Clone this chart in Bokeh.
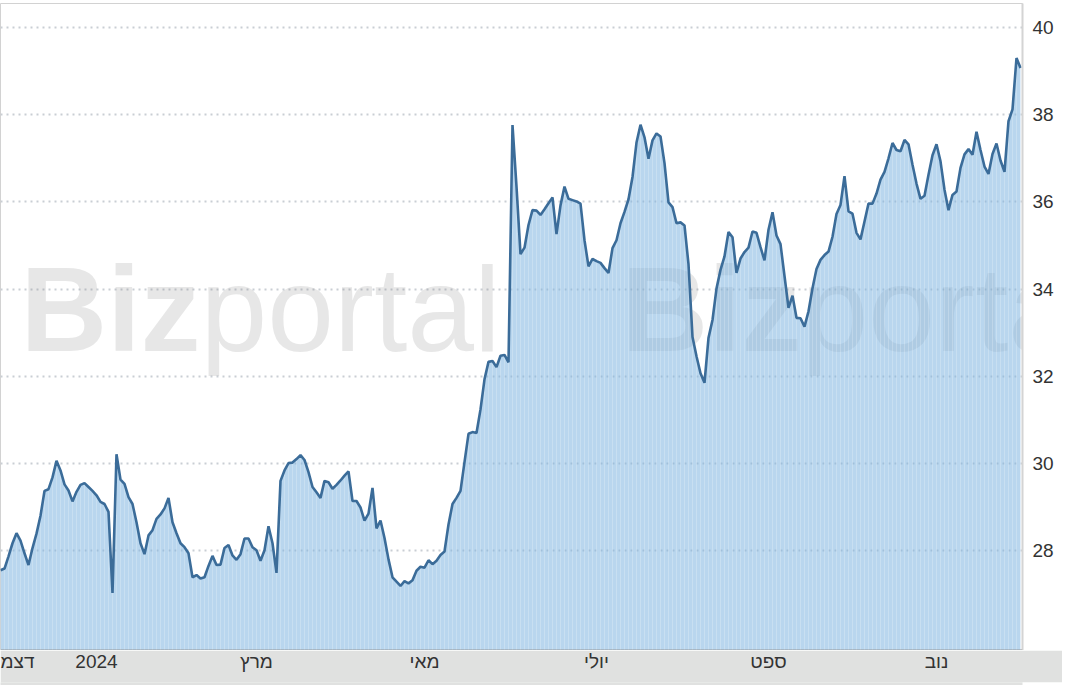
from bokeh.plotting import figure
from bokeh.models import Range1d, FixedTicker, Label, ColumnDataSource, Span
from bokeh.layouts import column
from bokeh.embed import file_html
from bokeh.resources import INLINE

# Daily closing prices (one value per trading day)
prices = [
    27.55, 27.59, 27.87, 28.17, 28.40, 28.23, 27.94, 27.67, 28.06, 28.39,
    28.80, 29.37, 29.41, 29.68, 30.06, 29.84, 29.52, 29.38, 29.13, 29.35,
    29.51, 29.55, 29.46, 29.37, 29.27, 29.12, 29.07, 28.89, 27.03, 30.21,
    29.63, 29.53, 29.23, 29.07, 28.65, 28.17, 27.92, 28.35, 28.47, 28.73,
    28.83, 28.97, 29.21, 28.65, 28.40, 28.17, 28.08, 27.94, 27.39, 27.44,
    27.36, 27.39, 27.65, 27.88, 27.67, 27.68, 28.06, 28.13, 27.89, 27.79,
    27.92, 28.28, 28.28, 28.08, 28.01, 27.77, 28.01, 28.56, 28.17, 27.49,
    29.60, 29.84, 30.01, 30.02, 30.10, 30.19, 30.08, 29.80, 29.46, 29.34,
    29.21, 29.60, 29.57, 29.42, 29.51, 29.61, 29.72, 29.82, 29.14, 29.14,
    28.99, 28.69, 28.85, 29.44, 28.51, 28.69, 28.29, 27.80, 27.39, 27.29,
    27.19, 27.30, 27.25, 27.32, 27.54, 27.63, 27.61, 27.78, 27.69, 27.77,
    27.90, 27.98, 28.60, 29.07, 29.21, 29.37, 30.03, 30.68, 30.72, 30.70,
    31.24, 31.93, 32.33, 32.35, 32.21, 32.47, 32.49, 32.32, 37.76, 36.35,
    34.80, 34.95, 35.47, 35.81, 35.80, 35.70, 35.83, 35.97, 36.10, 35.26,
    35.92, 36.35, 36.07, 36.04, 36.01, 35.96, 35.12, 34.52, 34.69, 34.64,
    34.60, 34.48, 34.37, 34.94, 35.12, 35.51, 35.77, 36.06, 36.57, 37.36,
    37.77, 37.48, 36.99, 37.41, 37.57, 37.50, 36.89, 35.99, 35.88, 35.51,
    35.53, 35.46, 34.57, 32.90, 32.46, 32.07, 31.85, 32.88, 33.29, 34.01,
    34.44, 34.75, 35.31, 35.19, 34.37, 34.70, 34.85, 34.95, 35.32, 35.29,
    34.96, 34.66, 35.36, 35.76, 35.23, 35.03, 34.30, 33.57, 33.85, 33.34,
    33.33, 33.14, 33.49, 34.02, 34.46, 34.67, 34.78, 34.86, 35.20, 35.72,
    35.93, 36.59, 35.78, 35.73, 35.29, 35.14, 35.55, 35.96, 35.96, 36.19,
    36.51, 36.69, 37.00, 37.35, 37.19, 37.16, 37.42, 37.32, 36.85, 36.42,
    36.07, 36.14, 36.62, 37.07, 37.32, 36.93, 36.28, 35.81, 36.16, 36.24,
    36.78, 37.09, 37.21, 37.08, 37.61, 37.19, 36.81, 36.64, 37.10, 37.34,
    36.95, 36.69, 37.85, 38.12, 39.30, 39.07,
]

# x-axis month labels (positions in trading-day index)
tick_days = [4, 24, 64, 106, 149, 192, 234]
tick_labels = ["דצמ", "2024", "מרץ", "מאי", "יולי", "ספט", "נוב"]

# y-axis ticks
y_ticks = [28, 30, 32, 34, 36, 38, 40]
y_min, y_max = 25.71, 40.55

days = list(range(len(prices)))
src = ColumnDataSource(dict(x=days, y=prices, base=[y_min] * len(prices)))

FONT = "Liberation Sans"

p = figure(width=1062, height=650,
           x_range=Range1d(0, 255.5), y_range=Range1d(y_min, y_max),
           output_backend="svg", toolbar_location=None,
           x_axis_location=None, y_axis_location="right",
           min_border_left=0, min_border_top=3, min_border_bottom=0,
           min_border_right=40)
p.background_fill_color = "white"
p.border_fill_color = "white"
p.outline_line_color = "#d2d2d2"
p.outline_line_width = 1

p.xgrid.visible = False
p.ygrid.ticker = FixedTicker(ticks=y_ticks)
p.ygrid.grid_line_color = "#c9ced4"
p.ygrid.grid_line_dash = "2 4"
p.ygrid.grid_line_width = 2

p.yaxis.ticker = FixedTicker(ticks=y_ticks)
p.yaxis.major_tick_line_color = None
p.yaxis.minor_tick_line_color = None
p.yaxis.axis_line_color = "#d4d4d4"
p.yaxis.axis_line_width = 2
p.yaxis.major_label_text_font = FONT
p.yaxis.major_label_text_font_size = "19px"
p.yaxis.major_label_text_color = "#333333"
p.yaxis.major_label_standoff = 4

# watermark
for x0, xp in [(20, 200), (621, 801)]:
    p.add_layout(Label(x=x0, y=275, x_units="screen", y_units="screen",
                       text="Biz", text_font=FONT, text_font_style="bold",
                       text_font_size="120px", text_color="#808080",
                       text_alpha=0.19, level="underlay"))
    p.add_layout(Label(x=xp, y=275, x_units="screen", y_units="screen",
                       text="portal", text_font=FONT,
                       text_font_size="120px", text_color="#808080",
                       text_alpha=0.19, level="underlay"))

p.varea(x="x", y1="base", y2="y", source=src,
        fill_color="#7fb5e0", fill_alpha=0.55)
p.segment(x0="x", y0="base", x1="x", y1="y", source=src,
          line_color="#ffffff", line_alpha=0.22, line_width=1)
p.line("x", "y", source=src, line_color="#3b6c99", line_width=2.6)
p.add_layout(Span(location=y_min, dimension="width",
                  line_color="#a9acae", line_width=2))

s = figure(width=1062, height=32, x_range=p.x_range, y_range=Range1d(0, 1),
           output_backend="svg", toolbar_location=None,
           x_axis_location="above", y_axis_location=None,
           min_border_left=0, min_border_right=40,
           min_border_top=0, min_border_bottom=0)
s.border_fill_color = "#e0e1e0"
s.background_fill_color = "#e0e1e0"
s.outline_line_color = None
s.grid.visible = False
s.xaxis.ticker = FixedTicker(ticks=tick_days)
s.xaxis.major_label_overrides = {d: t for d, t in zip(tick_days, tick_labels)}
s.xaxis.axis_line_color = None
s.xaxis.major_tick_line_color = None
s.xaxis.minor_tick_line_color = None
s.xaxis.major_label_text_font = FONT
s.xaxis.major_label_text_font_size = "19px"
s.xaxis.major_label_text_color = "#333333"
s.xaxis.major_label_standoff = 5

layout = column(p, s, spacing=0)

open("out.html", "w").write(file_html(layout, INLINE))
